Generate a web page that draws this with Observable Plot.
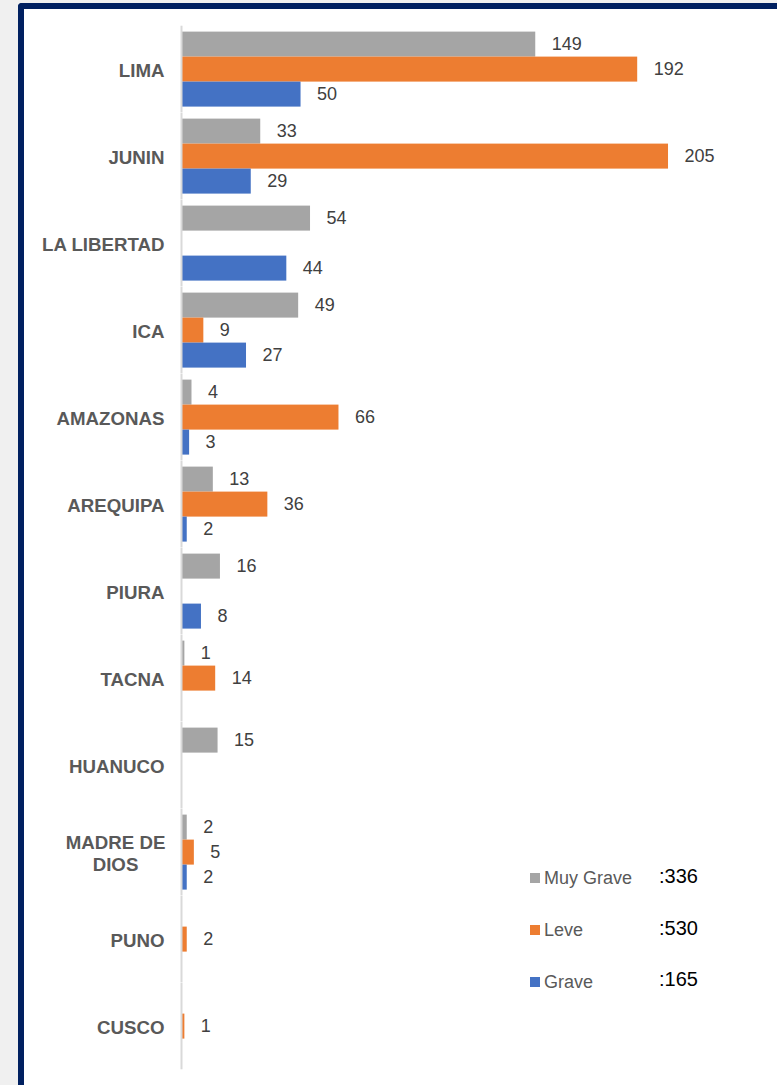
<!DOCTYPE html>
<html>
<head>
<meta charset="utf-8">
<script src="https://cdn.jsdelivr.net/npm/d3@7"></script>
<script src="https://cdn.jsdelivr.net/npm/@observablehq/plot@0.6"></script>
<style>
  html, body { margin: 0; padding: 0; background: #f0f0f0; }
  #wrap { position: relative; width: 777px; height: 1085px; overflow: hidden; font-family: "Liberation Sans", Arial, sans-serif; }
  #frame { position: absolute; left: 18px; top: 3px; width: 800px; height: 1120px; background: #fff;
           border-left: 6px solid #002060; border-top: 6px solid #002060; border-top-left-radius: 4px; box-sizing: border-box; }
  #chart { position: absolute; left: 0; top: 0; }
  #chart svg { background: transparent !important; }
  .leg { position: absolute; left: 530px; height: 24px; display: flex; align-items: center; }
  .sw { width: 10px; height: 10px; margin-right: 4px; }
  .lt { font-size: 18px; color: #595959; }
  .tot { position: absolute; left: 659px; font-size: 20px; color: #000; height: 24px; line-height: 24px; }
</style>
</head>
<body>
<div id="wrap">
  <div id="frame"></div>
  <div id="chart"></div>
</div>
<script>
const regions = ["LIMA", "JUNIN", "LA LIBERTAD", "ICA", "AMAZONAS", "AREQUIPA", "PIURA", "TACNA", "HUANUCO", "MADRE DE DIOS", "PUNO", "CUSCO"];
const series = ["Muy Grave", "Leve", "Grave"];
const colors = ["#a5a5a5", "#ed7d31", "#4472c4"];
const muyGrave = [149, 33, 54, 49, 4, 13, 16, 1, 15, 2, null, null];
const leve     = [192, 205, null, 9, 66, 36, null, 14, null, 5, 2, 1];
const grave    = [50, 29, 44, 27, 3, 2, 8, null, null, 2, null, null];
const wrappedRegions = {"MADRE DE DIOS": "MADRE DE\nDIOS"};

const seriesValues = [muyGrave, leve, grave];
const rows = [];
regions.forEach((r, i) => {
  series.forEach((s, j) => {
    const v = seriesValues[j][i];
    if (v != null) rows.push({region: r, series: s, value: v});
  });
});

const singleLine = regions.filter(r => !wrappedRegions[r]);
const multiLine = regions.filter(r => wrappedRegions[r]);
const axisStyle = {anchor: "left", label: null, tickSize: 0, fontSize: 18.7, fontWeight: "bold", color: "#595959", lineHeight: 1.18};

const chart = Plot.plot({
  width: 777,
  height: 1085,
  marginLeft: 182,
  marginRight: 2.3,
  marginTop: 25.4,
  marginBottom: 14.7,
  style: {fontFamily: "'Liberation Sans', Arial, sans-serif", background: "transparent", overflow: "visible"},
  x: {domain: [0, 250], axis: null},
  y: {domain: series, padding: 0, axis: null},
  fy: {domain: regions, paddingInner: 0.1214, paddingOuter: 0.0607, axis: null},
  color: {domain: series, range: colors},
  marks: [
    Plot.barX(rows, {x: "value", y: "series", fy: "region", fill: "series"}),
    Plot.ruleX([0], {stroke: "#d9d9d9", strokeWidth: 2, dx: -1, insetTop: -5.3, insetBottom: -5.3}),
    Plot.text(rows, {x: "value", y: "series", fy: "region", text: d => String(d.value), textAnchor: "start", dx: 16, fontSize: 18, fill: "#404040"}),
    Plot.axisFy({...axisStyle, ticks: singleLine, tickPadding: 18}),
    Plot.axisFy({...axisStyle, ticks: multiLine, tickPadding: 67, textAnchor: "middle", tickFormat: d => wrappedRegions[d] || d})
  ]
});
document.getElementById("chart").appendChild(chart);

// Legend
const wrap = document.getElementById("wrap");
series.forEach((s, j) => {
  const total = d3.sum(seriesValues[j], v => v || 0);
  const row = document.createElement("div");
  row.className = "leg";
  row.style.top = (866 + 52 * j) + "px";
  row.innerHTML = `<div class="sw" style="background:${colors[j]}"></div><span class="lt">${s}</span>`;
  wrap.appendChild(row);
  const t = document.createElement("div");
  t.className = "tot";
  t.style.top = (864 + 51.5 * j) + "px";
  t.textContent = ":" + total;
  wrap.appendChild(t);
});
</script>
</body>
</html>
